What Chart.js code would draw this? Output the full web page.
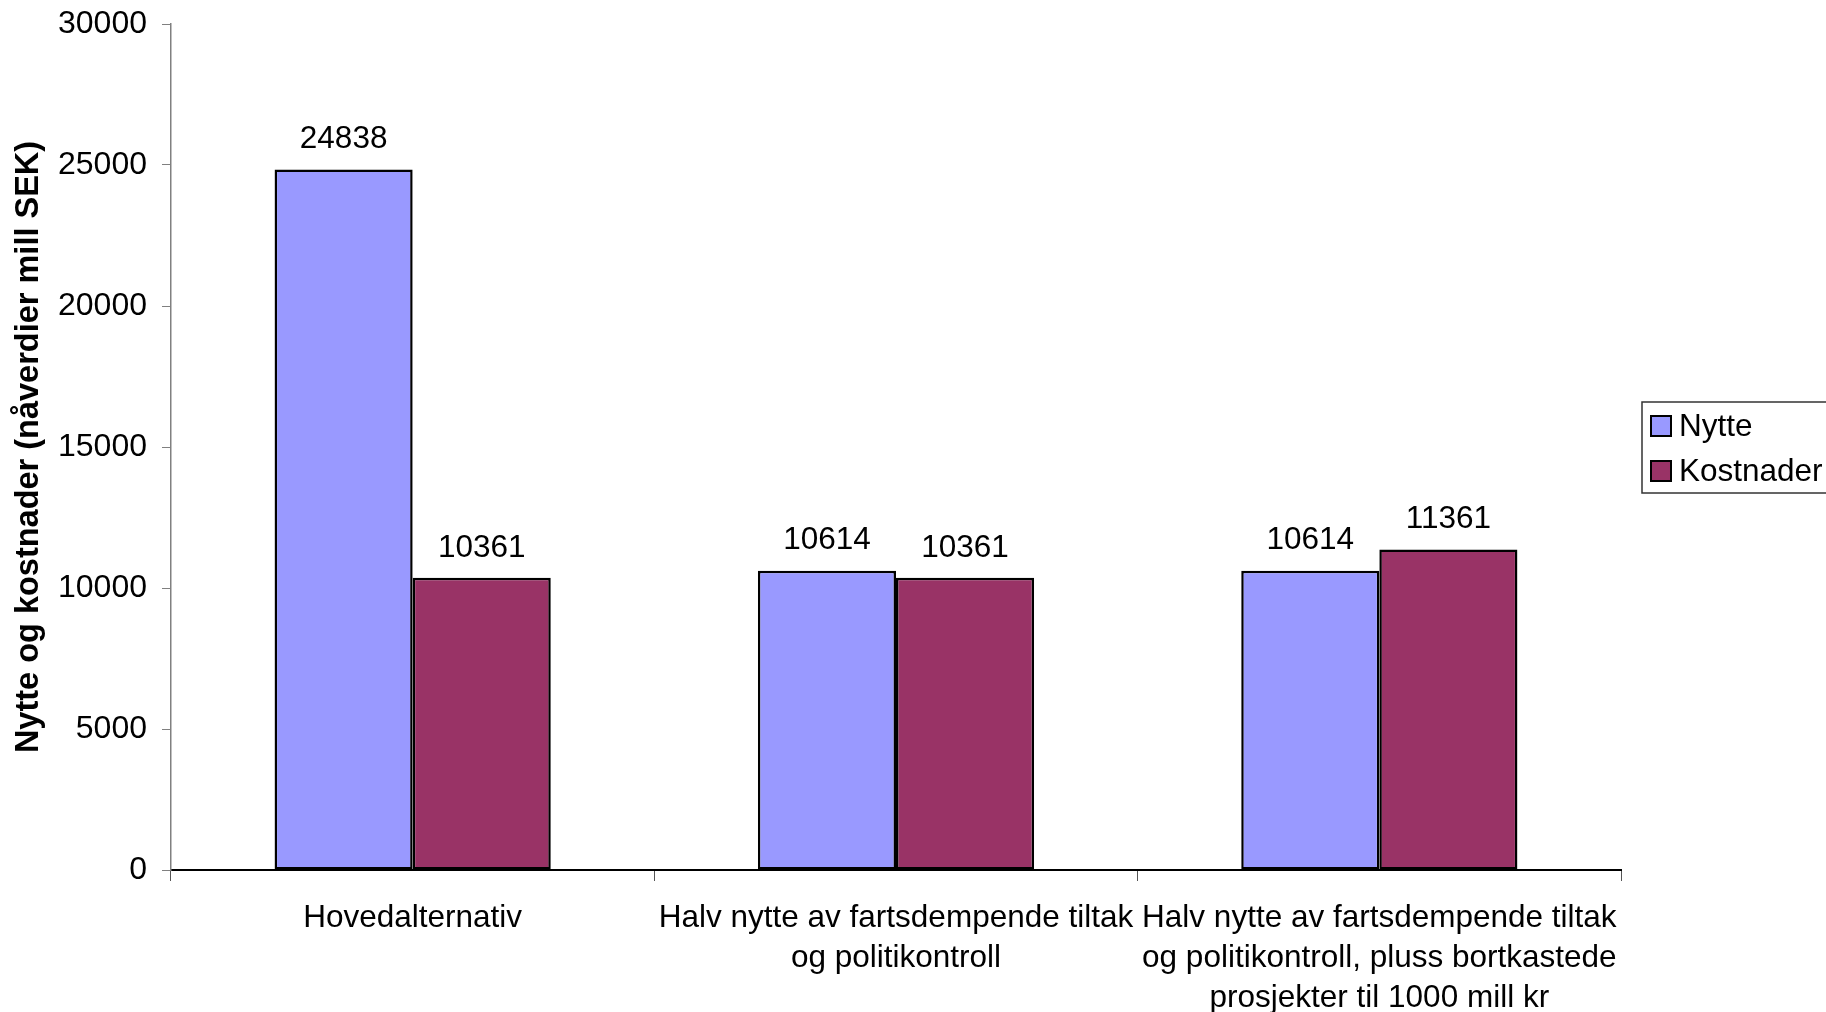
<!DOCTYPE html>
<html>
<head>
<meta charset="utf-8">
<script src="https://cdn.jsdelivr.net/npm/chart.js@4/dist/chart.umd.min.js"></script>
<style>
  html, body { margin: 0; padding: 0; background: #fff; }
  #wrap { width: 1826px; height: 1012px; }
</style>
</head>
<body>
<div id="wrap"><canvas id="chart1"></canvas></div>
<script>
// data
const categories = [
  "Hovedalternativ",
  ["Halv nytte av fartsdempende tiltak", "og politikontroll"],
  ["Halv nytte av fartsdempende tiltak", "og politikontroll, pluss bortkastede", "prosjekter til 1000 mill kr"],
];
const nytte = [24838, 10614, 10614];
const kostnader = [10361, 10361, 11361];
const seriesNames = ["Nytte", "Kostnader"];
const seriesColors = ["#9999FF", "#993366"];
const yTicks = [0, 5000, 10000, 15000, 20000, 25000, 30000];

const FONT = "'Liberation Sans', Arial, sans-serif";

// verdier over stolpene
const valueLabels = {
  id: "valueLabels",
  afterDatasetsDraw(chart) {
    const ctx = chart.ctx;
    ctx.save();
    ctx.font = "31.5px " + FONT;
    ctx.fillStyle = "#000";
    ctx.textAlign = "center";
    ctx.textBaseline = "middle";
    chart.data.datasets.forEach((ds, i) => {
      chart.getDatasetMeta(i).data.forEach((bar, j) => {
        ctx.fillText(String(ds.data[j]), bar.x, bar.y - 30);
      });
    });
    ctx.restore();
  },
};

// legende med ramme, som i Excel
const boxLegend = {
  id: "boxLegend",
  afterDraw(chart) {
    const ctx = chart.ctx;
    const a = chart.chartArea;
    const x = a.right + 21;
    const cy = (a.top + a.bottom) / 2;
    const y = cy - 45;
    ctx.save();
    ctx.strokeStyle = "#333";
    ctx.lineWidth = 1.5;
    ctx.fillStyle = "#fff";
    ctx.fillRect(x, y, 200, 91);
    ctx.strokeRect(x, y, 200, 91);
    ctx.font = "31.5px " + FONT;
    ctx.textBaseline = "middle";
    chart.data.datasets.forEach((ds, i) => {
      const ry = y + 24 + i * 45;
      ctx.fillStyle = ds.backgroundColor;
      ctx.fillRect(x + 9, ry - 10, 20, 20);
      ctx.strokeStyle = "#000";
      ctx.lineWidth = 2;
      ctx.strokeRect(x + 9, ry - 10, 20, 20);
      ctx.fillStyle = "#000";
      ctx.fillText(ds.label, x + 37, ry + 1);
    });
    ctx.restore();
  },
};

const chart1 = document.getElementById("chart1");
const myChart1 = new Chart(chart1, {
  type: "bar",
  data: {
    labels: categories,
    datasets: [
      {
        label: seriesNames[0],
        data: nytte,
        backgroundColor: seriesColors[0],
        borderColor: "#000",
        borderWidth: 2.5,
        borderSkipped: false,
      },
      {
        label: seriesNames[1],
        data: kostnader,
        backgroundColor: seriesColors[1],
        borderColor: "#000",
        borderWidth: 2.5,
        borderSkipped: false,
      },
    ],
  },
  options: {
    responsive: true,
    maintainAspectRatio: false,
    animation: false,
    layout: { padding: { top: 24, right: 205, bottom: 0, left: 0 } },
    datasets: { bar: { categoryPercentage: 2 / 3.5, barPercentage: 1 } },
    plugins: {
      legend: { display: false },
      tooltip: { enabled: false },
    },
    scales: {
      x: {
        offset: true,
        grid: {
          display: true,
          offset: true,
          drawOnChartArea: false,
          tickLength: 11,
          color: "#555",
        },
        border: { display: true, color: "#000", width: 2 },
        ticks: {
          color: "#000",
          padding: 17,
          maxRotation: 0,
          autoSkip: false,
          font: { family: FONT, size: 31.5, lineHeight: 1.27 },
        },
        afterFit(scale) {
          scale.height = 142;
          scale.paddingLeft = 0;
          scale.paddingRight = 0;
        },
      },
      y: {
        min: 0,
        max: 30000,
        afterBuildTicks(scale) {
          scale.ticks = yTicks.map((v) => ({ value: v }));
        },
        grid: {
          display: true,
          drawOnChartArea: false,
          tickLength: 9,
          color: "#808080",
        },
        border: { display: true, color: "#808080", width: 1.5 },
        ticks: {
          color: "#000",
          padding: 15,
          font: { family: FONT, size: 32 },
          callback: (v) => String(v),
        },
        title: {
          display: true,
          text: "Nytte og kostnader (nåverdier mill SEK)",
          color: "#000",
          font: { family: FONT, size: 32.5, weight: "bold" },
          padding: { top: 10, bottom: 0 },
        },
        afterFit(scale) {
          scale.width = 171;
          scale.paddingTop = 0;
          scale.paddingBottom = 0;
        },
      },
    },
  },
  plugins: [valueLabels, boxLegend],
});
</script>
</body>
</html>
